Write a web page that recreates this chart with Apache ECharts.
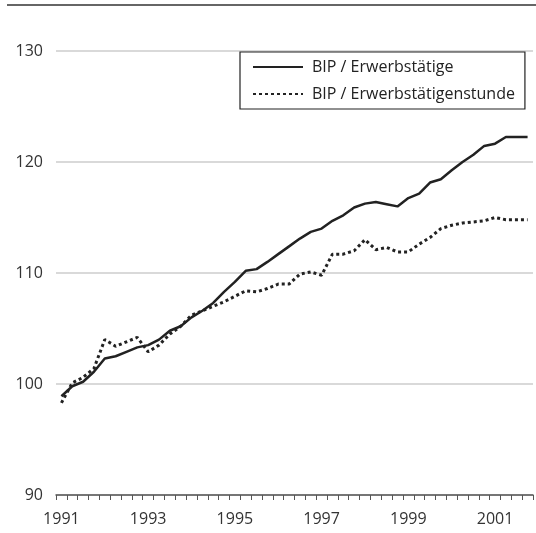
<!DOCTYPE html>
<html>
<head>
<meta charset="utf-8">
<script src="https://cdn.jsdelivr.net/npm/echarts@6/dist/echarts.min.js"></script>
<style>html,body{margin:0;padding:0;background:#fff;}#c{width:536px;height:533px;}</style>
</head>
<body>
<div id="c"></div>
<script>
var years = ['1991','1992','1993','1994','1995','1996','1997','1998','1999','2000','2001'];
var quarters = ['Q1','Q2','Q3','Q4'];
var categories = [];
years.forEach(function(y){ quarters.forEach(function(q){ categories.push(y + ' ' + q); }); });

var seriesNames = ['BIP / Erwerbstätige', 'BIP / Erwerbstätigenstunde'];

var bipErwerbstaetige = [
  98.9, 99.8, 100.2, 101.1,
  102.3, 102.5, 102.9, 103.3,
  103.5, 104.0, 104.8, 105.2,
  106.0, 106.6, 107.3, 108.3,
  109.2, 110.2, 110.35, 111.0,
  111.7, 112.4, 113.1, 113.7,
  114.0, 114.7, 115.2, 115.9,
  116.25, 116.4, 116.2, 116.0,
  116.75, 117.15, 118.15, 118.45,
  119.25, 120.0, 120.65, 121.45,
  121.65, 122.25, 122.25, 122.25
];

var bipStunde = [
  98.3, 100.1, 100.6, 101.4,
  104.0, 103.4, 103.8, 104.2,
  102.9, 103.5, 104.5, 105.2,
  106.2, 106.6, 107.0, 107.4,
  107.9, 108.4, 108.3, 108.6,
  109.0, 109.0, 109.9, 110.1,
  109.8, 111.7, 111.7, 112.0,
  113.0, 112.1, 112.3, 111.9,
  111.9, 112.6, 113.2, 114.0,
  114.3, 114.5, 114.6, 114.7,
  115.0, 114.8, 114.8, 114.8
];

var yTicks = [90, 100, 110, 120, 130];

var chart = echarts.init(document.getElementById('c'), null, {renderer: 'canvas'});
var font = '"Open Sans", "Noto Sans", sans-serif';
chart.setOption({
  animation: false,
  backgroundColor: '#ffffff',
  textStyle: {fontFamily: font},
  grid: {left: 56, right: 3, top: 51, bottom: 38, containLabel: false},
  graphic: [{
    type: 'line',
    shape: {x1: 7, y1: 5, x2: 536, y2: 5},
    style: {stroke: '#666666', lineWidth: 2}
  }],
  legend: {
    show: true,
    orient: 'vertical',
    left: 240,
    top: 52,
    padding: [7, 10, 7, 12],
    itemGap: 11,
    itemWidth: 50,
    itemHeight: 16,
    borderColor: '#222222',
    borderWidth: 1.2,
    backgroundColor: '#ffffff',
    itemStyle: {opacity: 0},
    textStyle: {fontFamily: font, fontSize: 16, color: '#222222', width: 206, padding: [0, 0, 0, 4]},
    data: seriesNames
  },
  xAxis: {
    type: 'category',
    data: categories,
    boundaryGap: true,
    axisLine: {show: true, lineStyle: {color: '#555555', width: 1.5}},
    axisTick: {show: true, interval: 0, length: 5, lineStyle: {color: '#555555', width: 1}},
    axisLabel: {
      interval: 7,
      margin: 16,
      color: '#333333',
      fontSize: 16,
      fontFamily: font,
      formatter: function(v){ return v.split(' ')[0]; }
    },
    splitLine: {show: false}
  },
  yAxis: {
    type: 'value',
    min: yTicks[0],
    max: yTicks[yTicks.length - 1],
    interval: 10,
    axisLine: {show: false},
    axisTick: {show: false},
    axisLabel: {color: '#333333', fontSize: 16, fontFamily: font, margin: 13},
    splitLine: {show: true, lineStyle: {color: '#cccccc', width: 1.5}}
  },
  series: [{
    name: seriesNames[0],
    type: 'line',
    data: bipErwerbstaetige,
    symbol: 'none',
    smooth: false,
    lineStyle: {color: '#222222', width: 2.5, type: 'solid'},
    itemStyle: {color: '#222222'},
    z: 3
  }, {
    name: seriesNames[1],
    type: 'line',
    data: bipStunde,
    symbol: 'none',
    smooth: false,
    lineStyle: {color: '#222222', width: 3, type: [3, 3]},
    itemStyle: {color: '#222222'},
    z: 2
  }]
});
</script>
</body>
</html>
